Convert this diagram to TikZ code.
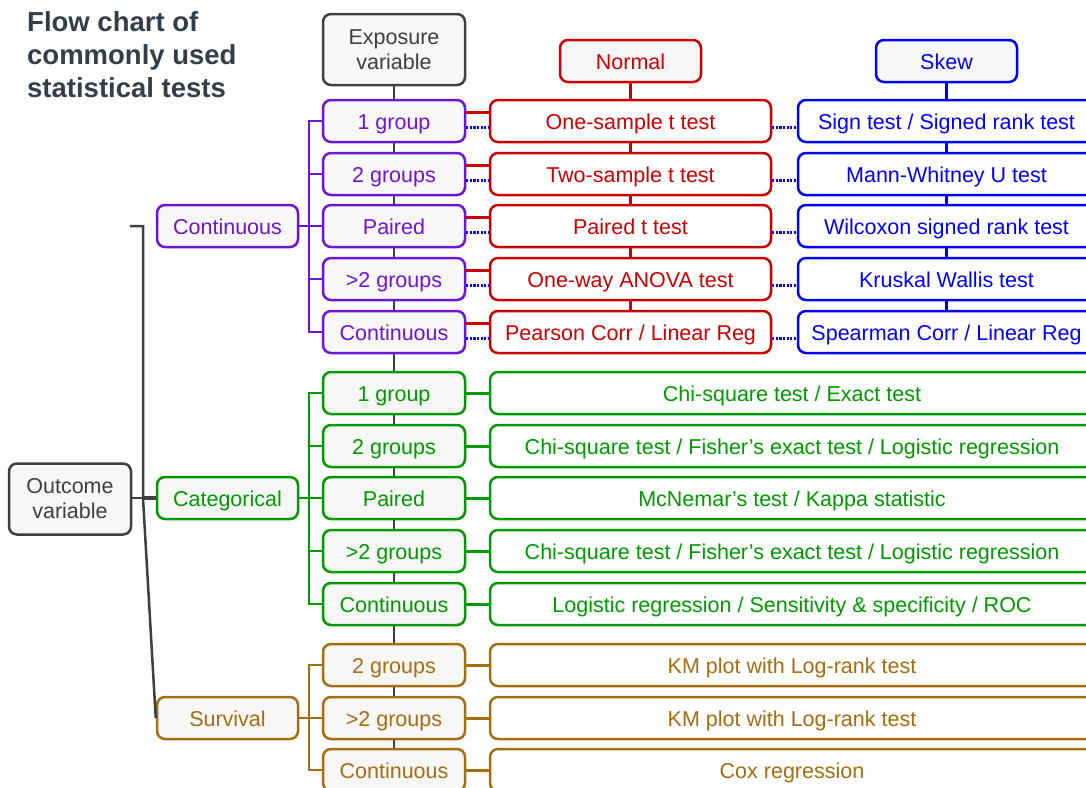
\documentclass[tikz,border=0pt]{standalone}
\usepackage{fontspec}
\setmainfont{Liberation Sans}
\definecolor{cpurple}{RGB}{112,20,212}
\definecolor{cred}{RGB}{204,0,0}
\definecolor{cblue}{RGB}{0,0,255}
\definecolor{cgreen}{RGB}{0,153,0}
\definecolor{cbrown}{RGB}{166,108,16}
\definecolor{cgray}{RGB}{60,64,67}
\definecolor{cfill}{RGB}{247,247,247}
\definecolor{ctitle}{RGB}{51,62,72}
\newcommand{\fs}{\fontsize{21.5}{25}\selectfont}
\begin{document}
\begin{tikzpicture}[x=1pt,y=-1pt,
  box/.style={draw, rounded corners=8pt, line width=2.5pt, minimum height=42pt,
    inner sep=0pt, font=\fs, align=center},
  one/.style={text height=20pt, text depth=4pt},
  ebox/.style={box, fill=cfill, minimum width=142pt},
  rbox/.style={box, one, fill=white, draw=cred, text=cred, minimum width=281pt},
  sbox/.style={box, one, fill=white, draw=cblue, text=cblue, minimum width=297pt},
  wbox/.style={box, one, fill=white, minimum width=604pt},
  pbox/.style={ebox, one, draw=cpurple, text=cpurple},
  gbox/.style={ebox, one, draw=cgreen, text=cgreen},
  bbox/.style={ebox, one, draw=cbrown, text=cbrown},
  trunk/.style={draw=cgray, line width=2pt},
  pl/.style={draw=cpurple, line width=2.5pt},
  gl/.style={draw=cgreen, line width=2.5pt},
  bl/.style={draw=cbrown, line width=2.5pt},
  rl/.style={draw=cred, line width=3pt},
  bdl/.style={draw=cblue, line width=3pt, dash pattern=on 2.2pt off 1.4pt},
  grl/.style={draw=cgray, line width=2.5pt}]
\useasboundingbox (0,0) rectangle (1086,787);
\clip (0,0) rectangle (1086,787);

% title
\node[anchor=north west, inner sep=0pt, align=left, text=ctitle,
  font=\bfseries\fontsize{27.5}{33}\selectfont] (title) at (27,11)
  {Flow chart of\\commonly used\\statistical tests};

% headers
\node[ebox, draw=cgray, text=cgray, minimum height=71pt] (exp) at (394,49.5) {Exposure\\variable};
\node[box, one, fill=cfill, draw=cred, text=cred, minimum width=141pt] (normal) at (630.5,61) {Normal};
\node[box, one, fill=cfill, draw=cblue, text=cblue, minimum width=141pt] (skew) at (946.5,61) {Skew};

% continuous outcome
\node[pbox] (p1) at (394,121) {1 group};
\node[pbox] (p2) at (394,174) {2 groups};
\node[pbox] (p3) at (394,226) {Paired};
\node[pbox] (p4) at (394,279) {>2 groups};
\node[pbox] (p5) at (394,332) {Continuous};
\node[rbox] (r1) at (630.5,121) {One-sample t test};
\node[rbox] (r2) at (630.5,174) {Two-sample t test};
\node[rbox] (r3) at (630.5,226) {Paired t test};
\node[rbox] (r4) at (630.5,279) {One-way ANOVA test};
\node[rbox] (r5) at (630.5,332) {Pearson Corr / Linear Reg};
\node[sbox] (s1) at (946.5,121) {Sign test / Signed rank test};
\node[sbox] (s2) at (946.5,174) {Mann-Whitney U test};
\node[sbox] (s3) at (946.5,226) {Wilcoxon signed rank test};
\node[sbox] (s4) at (946.5,279) {Kruskal Wallis test};
\node[sbox] (s5) at (946.5,332) {Spearman Corr / Linear Reg};

% categorical outcome
\node[gbox] (g1) at (394,393) {1 group};
\node[gbox] (g2) at (394,446) {2 groups};
\node[gbox] (g3) at (394,498) {Paired};
\node[gbox] (g4) at (394,551) {>2 groups};
\node[gbox] (g5) at (394,604) {Continuous};
\node[wbox, draw=cgreen, text=cgreen] (t1) at (792,393) {Chi-square test / Exact test};
\node[wbox, draw=cgreen, text=cgreen] (t2) at (792,446) {Chi-square test / Fisher’s exact test / Logistic regression};
\node[wbox, draw=cgreen, text=cgreen] (t3) at (792,498) {McNemar’s test / Kappa statistic};
\node[wbox, draw=cgreen, text=cgreen] (t4) at (792,551) {Chi-square test / Fisher’s exact test / Logistic regression};
\node[wbox, draw=cgreen, text=cgreen] (t5) at (792,604) {Logistic regression / Sensitivity \& specificity / ROC};

% survival outcome
\node[bbox] (b1) at (394,665) {2 groups};
\node[bbox] (b2) at (394,718) {>2 groups};
\node[bbox] (b3) at (394,770) {Continuous};
\node[wbox, draw=cbrown, text=cbrown] (u1) at (792,665) {KM plot with Log-rank test};
\node[wbox, draw=cbrown, text=cbrown] (u2) at (792,718) {KM plot with Log-rank test};
\node[wbox, draw=cbrown, text=cbrown] (u3) at (792,770) {Cox regression};

% outcome categories
\node[pbox, minimum width=141pt] (ccont) at (227.5,226) {Continuous};
\node[gbox, minimum width=141pt] (ccat) at (227.5,498) {Categorical};
\node[bbox, minimum width=141pt] (csurv) at (227.5,718) {Survival};
\node[ebox, draw=cgray, text=cgray, minimum width=122pt, minimum height=71pt] (out) at (70,499) {Outcome\\variable};

% gray trunk through exposure boxes
\draw[trunk] (exp.south) -- (p1.north);
\draw[trunk] (p1.south) -- (p2.north);
\draw[trunk] (p2.south) -- (p3.north);
\draw[trunk] (p3.south) -- (p4.north);
\draw[trunk] (p4.south) -- (p5.north);
\draw[trunk] (p5.south) -- (g1.north);
\draw[trunk] (g1.south) -- (g2.north);
\draw[trunk] (g2.south) -- (g3.north);
\draw[trunk] (g3.south) -- (g4.north);
\draw[trunk] (g4.south) -- (g5.north);
\draw[trunk] (g5.south) -- (b1.north);
\draw[trunk] (b1.south) -- (b2.north);
\draw[trunk] (b2.south) -- (b3.north);

% red trunk
\draw[rl] (normal.south) -- (r1.north);
\draw[rl] (r1.south) -- (r2.north);
\draw[rl] (r2.south) -- (r3.north);
\draw[rl] (r3.south) -- (r4.north);
\draw[rl] (r4.south) -- (r5.north);
% blue trunk
\draw[draw=cblue, line width=3pt] (skew.south) -- (s1.north);
\draw[draw=cblue, line width=3pt] (s1.south) -- (s2.north);
\draw[draw=cblue, line width=3pt] (s2.south) -- (s3.north);
\draw[draw=cblue, line width=3pt] (s3.south) -- (s4.north);
\draw[draw=cblue, line width=3pt] (s4.south) -- (s5.north);

% exposure -> normal / skew
\foreach \i in {1,...,5}{
  \draw[rl] ([yshift=9pt]p\i.east) -- ([yshift=9pt]p\i.east -| r\i.west);
  \draw[bdl] ([yshift=-6pt]p\i.east) -- ([yshift=-6pt]p\i.east -| r\i.west);
  \draw[bdl] ([yshift=-6pt]r\i.east) -- ([yshift=-6pt]r\i.east -| s\i.west);
}
\foreach \i in {1,...,5}{
  \draw[gl, line width=3pt] (g\i.east) -- (t\i.west);
}
\foreach \i in {1,2,3}{
  \draw[bl, line width=3pt] (b\i.east) -- (u\i.west);
}

% brackets
\draw[pl] (p1.west) -- ++(-13,0) |- (p5.west);
\draw[pl] (p2.west) -- ++(-13,0);
\draw[pl] (p4.west) -- ++(-13,0);
\draw[pl] (ccont.east) -- (p3.west);
\draw[gl] (g1.west) -- ++(-13,0) |- (g5.west);
\draw[gl] (g2.west) -- ++(-13,0);
\draw[gl] (g4.west) -- ++(-13,0);
\draw[gl] (ccat.east) -- (g3.west);
\draw[bl] (b1.west) -- ++(-13,0) |- (b3.west);
\draw[bl] (csurv.east) -- (b2.west);

% outcome links
\coordinate (jt) at (143,226);
\coordinate (jm) at (143,498);
\draw[grl] (130,226) -- (jt) -- (jm) -- (csurv.west);
\draw[grl] (out.east |- ccat.west) -- (jm);
\draw[draw=cgray, line width=4pt] (jm) -- (ccat.west);
\end{tikzpicture}
\end{document}
